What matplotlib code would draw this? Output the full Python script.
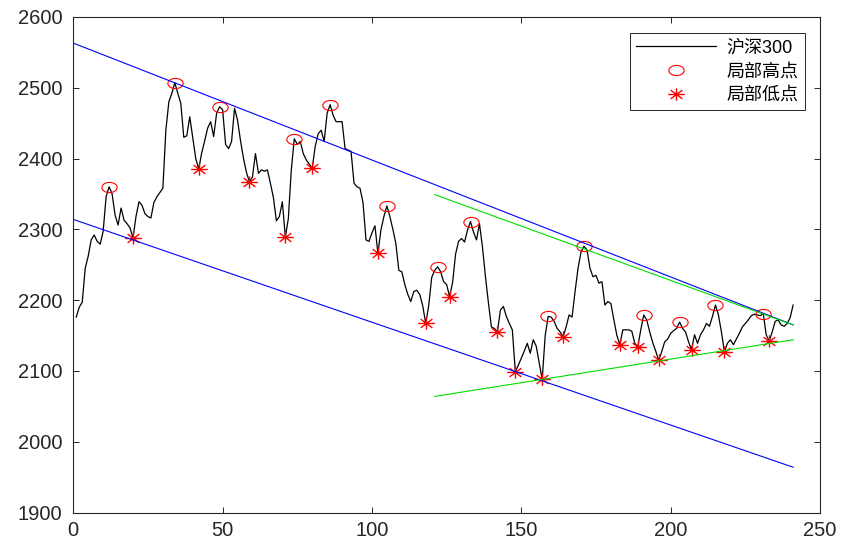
import numpy as np
import matplotlib
matplotlib.use("Agg")
import matplotlib.pyplot as plt
from matplotlib.path import Path
from matplotlib.transforms import Affine2D

plt.rcParams['font.family'] = ['Liberation Sans', 'Noto Sans CJK SC']

# CSI 300 daily close, day 1..241
close = [
    2176, 2190, 2197, 2245, 2262, 2285, 2292, 2283, 2279, 2297,
    2346, 2360, 2350, 2320, 2306, 2330, 2313, 2308, 2302, 2288,
    2318, 2339, 2334, 2322, 2318, 2316, 2338, 2346, 2352, 2358,
    2440, 2480, 2492, 2507, 2492, 2478, 2430, 2432, 2459, 2430,
    2400, 2385, 2408, 2425, 2443, 2452, 2431, 2464, 2473, 2469,
    2420, 2414, 2424, 2471, 2454, 2425, 2400, 2380, 2367, 2374,
    2407, 2379, 2384, 2382, 2384, 2365, 2345, 2312, 2318, 2339,
    2289, 2315, 2384, 2428, 2420, 2424, 2407, 2398, 2392, 2386,
    2417, 2435, 2440, 2424, 2464, 2476, 2461, 2452, 2452, 2452,
    2414, 2412, 2410, 2365, 2360, 2358, 2338, 2285, 2283, 2295,
    2305, 2266, 2299, 2318, 2333, 2318, 2300, 2280, 2242, 2240,
    2222, 2208, 2198, 2212, 2214, 2208, 2192, 2167, 2192, 2232,
    2242, 2247, 2240, 2226, 2222, 2205, 2225, 2265, 2283, 2287,
    2282, 2299, 2311, 2296, 2285, 2308, 2275, 2233, 2196, 2162,
    2160, 2155, 2186, 2191, 2177, 2167, 2158, 2099, 2108, 2118,
    2128, 2139, 2125, 2144, 2135, 2111, 2088, 2150, 2177, 2176,
    2170, 2160, 2155, 2148, 2162, 2179, 2176, 2212, 2245, 2268,
    2276, 2271, 2245, 2233, 2235, 2224, 2226, 2193, 2198, 2195,
    2172, 2150, 2137, 2158, 2158, 2158, 2156, 2139, 2134, 2158,
    2179, 2172, 2155, 2140, 2128, 2115, 2127, 2141, 2145, 2153,
    2157, 2160, 2169, 2160, 2155, 2141, 2130, 2151, 2139, 2151,
    2158, 2167, 2163, 2177, 2193, 2179, 2155, 2127, 2139, 2144,
    2137, 2145, 2153, 2162, 2167, 2172, 2178, 2180, 2179, 2178,
    2181, 2151, 2142, 2155, 2170, 2172, 2165, 2163, 2167, 2175,
    2193,
]
days = np.arange(1, len(close) + 1)

high_days = [12, 34, 49, 74, 86, 105, 122, 133, 159, 171, 191, 203, 215, 231]
low_days = [20, 42, 59, 71, 80, 102, 118, 126, 142, 148, 157, 164, 183, 189,
            196, 207, 218, 233]

# channel lines (start, end)
upper_x, upper_y = [0, 241], [2563, 2165]
lower_x, lower_y = [0, 241], [2314, 1964]
tri_top_x, tri_top_y = [121, 241], [2349, 2165]
tri_bot_x, tri_bot_y = [121, 241], [2064, 2144]

close = np.array(close)
high_idx = np.array(high_days) - 1
low_idx = np.array(low_days) - 1

# slightly wide circle and 8-armed asterisk markers
ring = Path.unit_circle().transformed(Affine2D().scale(1.5, 1.0))
ang = np.deg2rad(np.arange(0, 360, 45))
verts, codes = [], []
for a in ang:
    verts += [(0, 0), (1.35 * np.cos(a), np.sin(a))]
    codes += [Path.MOVETO, Path.LINETO]
star = Path(verts, codes)

fig = plt.figure(figsize=(8.47, 5.45), dpi=100)
ax = fig.add_axes([0.0865, 0.0596, 0.8816, 0.9094])

ax.plot(days, close, color='k', lw=0.9, label='沪深300')
ax.plot(days[high_idx], close[high_idx], ls='none', marker=ring, ms=11,
        mfc='none', mec='red', mew=0.8, label='局部高点')
ax.plot(days[low_idx], close[low_idx], ls='none', marker=star, ms=12,
        mfc='none', mec='red', mew=1.0, label='局部低点')

ax.plot(upper_x, upper_y, color='blue', lw=0.8)
ax.plot(lower_x, lower_y, color='blue', lw=0.8)
ax.plot(tri_top_x, tri_top_y, color='#00dd00', lw=0.8)
ax.plot(tri_bot_x, tri_bot_y, color='#00dd00', lw=0.8)

ax.set_xlim(0, 250)
ax.set_ylim(1900, 2600)
ax.set_xticks(np.arange(0, 251, 50))
ax.set_yticks(np.arange(1900, 2601, 100))
ax.tick_params(direction='in', top=True, right=True, length=4, width=0.7,
               labelsize=14.5, colors='#262626')
ax.tick_params(axis='x', pad=6)
ax.tick_params(axis='y', pad=8)
for s in ax.spines.values():
    s.set_linewidth(0.8)
    s.set_color('#262626')

leg = ax.legend(loc='upper right', bbox_to_anchor=(0.98, 0.9675),
                borderaxespad=0, fancybox=False, edgecolor='#262626',
                fontsize=13, handlelength=4.4, handletextpad=0.6,
                labelspacing=0.38, borderpad=0.35, framealpha=1)
leg.get_frame().set_linewidth(0.7)

fig.savefig('out.png', dpi=100)
